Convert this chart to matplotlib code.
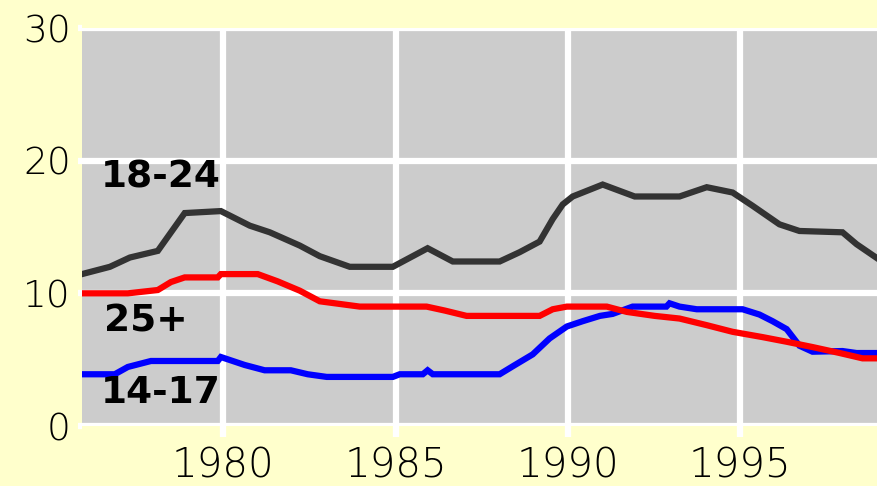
import matplotlib.pyplot as plt

# 18-24 age group
years_1824 = [1975.90, 1976.71, 1977.29, 1978.10, 1978.88, 1979.93, 1980.77, 1981.35,
              1982.22, 1982.80, 1983.67, 1984.92, 1985.93, 1986.66, 1988.02, 1988.60,
              1989.18, 1989.56, 1989.85, 1990.14, 1991.01, 1991.94, 1993.24, 1994.03,
              1994.78, 1995.36, 1996.14, 1996.72, 1997.97, 1998.38, 1999.0]
vals_1824 = [11.45, 12.0, 12.7, 13.2, 16.05, 16.2, 15.1, 14.6,
             13.6, 12.8, 12.0, 12.0, 13.4, 12.4, 12.4, 13.1,
             13.9, 15.6, 16.7, 17.3, 18.2, 17.3, 17.3, 18.0,
             17.6, 16.6, 15.2, 14.7, 14.6, 13.7, 12.6]

# 25+ age group
years_25 = [1975.90, 1977.23, 1978.10, 1978.48, 1978.88, 1979.84, 1979.93, 1981.00,
            1981.58, 1982.22, 1982.80, 1983.96, 1985.90, 1986.43, 1987.06, 1989.18,
            1989.56, 1989.97, 1991.13, 1991.71, 1992.52, 1993.24, 1994.03, 1994.78,
            1995.65, 1996.35, 1997.10, 1997.89, 1998.55, 1999.0]
vals_25 = [10.0, 10.0, 10.25, 10.85, 11.2, 11.2, 11.45, 11.45,
           10.9, 10.2, 9.4, 9.0, 9.0, 8.7, 8.3, 8.3,
           8.8, 9.0, 9.0, 8.6, 8.3, 8.1, 7.6, 7.1,
           6.7, 6.35, 5.95, 5.5, 5.1, 5.1]

# 14-17 age group
years_1417 = [1975.90, 1976.85, 1977.23, 1977.90, 1979.84, 1979.93, 1980.62, 1981.20,
              1981.96, 1982.45, 1983.00, 1984.92, 1985.12, 1985.79, 1985.93, 1986.08,
              1988.02, 1988.40, 1988.98, 1989.47, 1989.97, 1990.43, 1990.93, 1991.30,
              1991.88, 1992.86, 1992.95, 1993.24, 1993.74, 1995.07, 1995.56, 1995.94,
              1996.35, 1996.72, 1997.10, 1997.97, 1998.38, 1999.0]
vals_1417 = [3.9, 3.9, 4.45, 4.9, 4.9, 5.2, 4.6, 4.2,
             4.2, 3.9, 3.7, 3.7, 3.9, 3.9, 4.2, 3.9,
             3.9, 4.5, 5.4, 6.6, 7.5, 7.9, 8.3, 8.45,
             9.0, 9.0, 9.25, 9.0, 8.8, 8.8, 8.4, 7.9,
             7.3, 6.05, 5.6, 5.65, 5.5, 5.5]

x_ticks = [1980, 1985, 1990, 1995]
y_ticks = [0, 10, 20, 30]

fig = plt.figure(figsize=(8.78, 4.86), dpi=100, facecolor='#FFFFCC')
ax = fig.add_axes([82 / 878, 60 / 486, 796 / 878, 398 / 486])
ax.set_facecolor('#CCCCCC')

ax.plot(years_1824, vals_1824, color='#333333', lw=4.5, solid_joinstyle='miter', zorder=3)
ax.plot(years_1417, vals_1417, color='#0000FF', lw=4.5, solid_joinstyle='miter', zorder=3)
ax.plot(years_25, vals_25, color='#FF0000', lw=4.5, solid_joinstyle='miter', zorder=4)

lab = dict(fontsize=27, fontweight='bold', color='black', ha='left', va='center', zorder=5)
ax.text(1976.45, 18.7, '18-24', **lab)
ax.text(1976.55, 7.85, '25+', **lab)
ax.text(1976.45, 2.5, '14-17', **lab)

ax.set_xlim(1975.9, 1999.0)
ax.set_ylim(0, 30)
ax.set_xticks(x_ticks)
ax.set_yticks(y_ticks)
ax.grid(True, color='white', lw=4.5, zorder=1)
ax.set_axisbelow(True)
for s in ax.spines.values():
    s.set_visible(False)
ax.tick_params(axis='x', colors='white', length=8, width=4.5, pad=7,
               labelcolor='black', labelsize=29)
ax.tick_params(axis='y', colors='white', length=3, width=4.5, pad=5,
               labelcolor='black', labelsize=27)
for t in ax.get_xticklabels() + ax.get_yticklabels():
    t.set_fontweight('light')

fig.savefig('out.png', dpi=100, facecolor=fig.get_facecolor())
